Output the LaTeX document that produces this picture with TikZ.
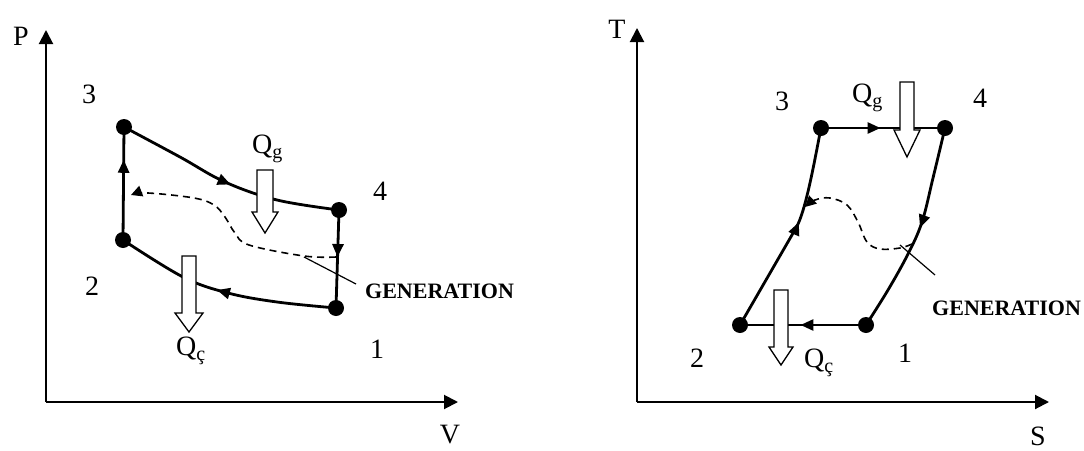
\documentclass[tikz,border=0pt]{standalone}
\usepackage{fontspec}
\setmainfont{Liberation Serif}
\usetikzlibrary{arrows.meta,decorations.markings}
\newcommand\heatarrow[6]{% cx, ytop, yheadtop, ytip, shaft half width, head half width
  \draw[heat] (#1-#5,#2) -- (#1+#5,#2) -- (#1+#5,#3) -- (#1+#6,#3) -- (#1,#4) -- (#1-#6,#3) -- (#1-#5,#3) -- cycle;}
\newcommand\subtxt[1]{\raisebox{-5pt}{\fontsize{20}{22}\selectfont #1}}
\begin{document}
\begin{tikzpicture}[x=1pt,y=-1pt,
  axis/.style={line width=2pt,-{Triangle[length=14pt,width=14pt]}},
  loopline/.style={line width=2.8pt,line join=round},
  dashedpath/.style={line width=1.6pt,dash pattern=on 7pt off 5pt,-{Triangle[length=11pt,width=11pt]}},
  leader/.style={line width=1.2pt},
  midarrow/.style={postaction={decorate,decoration={markings,mark=at position #1 with {\arrow{Triangle[length=13pt,width=11pt]}}}}},
  lbl/.style={font=\fontsize{28}{30}\selectfont,inner sep=0pt},
  gen/.style={font=\fontsize{22}{24}\selectfont\bfseries,inner sep=0pt,anchor=base west},
  dot/.style={circle,fill=black,inner sep=0pt,minimum size=16pt},
  heat/.style={draw=black,fill=white,line width=1.3pt,line join=miter}
]
\useasboundingbox (0,0) rectangle (1084,450);

% ---------------- Left: P-V diagram ----------------
\coordinate (LO) at (46,402);
\coordinate (LYT) at (46,30);
\coordinate (LXT) at (458,402);
\draw[axis] (LO) -- (LYT);
\draw[axis] (LO) -- (LXT);

\coordinate (L1) at (336,308);
\coordinate (L2) at (123,240);
\coordinate (L3) at (124,127);
\coordinate (L4) at (339,210);

\draw[loopline,midarrow=0.52] plot[smooth,tension=0.6] coordinates {(L3) (180,157) (225,182) (277,200) (L4)};
\draw[loopline,midarrow=0.48] (L4) -- (L1);
\draw[loopline,midarrow=0.53] plot[smooth,tension=0.6] coordinates {(L1) (277,302) (228,293) (183,277) (L2)};
\draw[loopline,midarrow=0.71] (L2) -- (L3);

\draw[dashedpath] plot[smooth,tension=0.6] coordinates {(336,257) (304,256) (249,245) (235,233) (225,217) (214,205) (194,198) (148,193) (131,195)};
\coordinate (LG1) at (304,257);
\coordinate (LG2) at (356,284);
\draw[leader] (LG1) -- (LG2);

\heatarrow{265}{170}{212}{233}{8}{13}
\heatarrow{189}{256}{313}{332}{7}{14}

\node[dot] (dL1) at (L1) {};
\node[dot] (dL2) at (L2) {};
\node[dot] (dL3) at (L3) {};
\node[dot] (dL4) at (L4) {};

\node[lbl,anchor=base] (tP) at (21,45) {P};
\node[lbl,anchor=base] (tV) at (450,443) {V};
\node[lbl,anchor=base] (tL3) at (89,103) {3};
\node[lbl,anchor=base] (tL4) at (380,200) {4};
\node[lbl,anchor=base] (tL2) at (92,295) {2};
\node[lbl,anchor=base] (tL1) at (377,358) {1};
\node[lbl,anchor=base west] (tLQg) at (252,153) {Q\subtxt{g}};
\node[lbl,anchor=base west] (tLQc) at (176,355) {Q\subtxt{ç}};
\node[gen] (tLgen) at (365,298) {GENERATION};

% ---------------- Right: T-S diagram ----------------
\coordinate (RO) at (637,402);
\coordinate (RYT) at (637,28);
\coordinate (RXT) at (1049,402);
\draw[axis] (RO) -- (RYT);
\draw[axis] (RO) -- (RXT);

\coordinate (R1) at (866,325);
\coordinate (R2) at (740,325);
\coordinate (R3) at (821,128);
\coordinate (R4) at (945,128);
\coordinate (R23) at (796,228);

\draw[loopline,midarrow=0.48] (R3) -- (R4);
\draw[loopline,midarrow=0.48] plot[smooth,tension=0.6] coordinates {(R4) (933,178) (922,222) (908,254) (888,290) (R1)};
\draw[loopline,midarrow=0.52] (R1) -- (R2);
\draw[loopline,midarrow=0.55] (R2) -- (R23) .. controls (806,211) and (815,158) .. (R3);

\draw[dashedpath] plot[smooth,tension=0.6] coordinates {(912,244) (900,248) (880,249) (867,242) (858,222) (847,205) (830,198) (815,200) (805,207)};
\coordinate (RG1) at (900,245);
\coordinate (RG2) at (935,275);
\draw[leader] (RG1) -- (RG2);

\heatarrow{907}{82}{130}{157}{7}{13}
\heatarrow{781}{290}{347}{365}{7}{12}

\node[dot] (dR1) at (R1) {};
\node[dot] (dR2) at (R2) {};
\node[dot] (dR3) at (R3) {};
\node[dot] (dR4) at (R4) {};

\node[lbl,anchor=base] (tT) at (617,38) {T};
\node[lbl,anchor=base] (tS) at (1038,445) {S};
\node[lbl,anchor=base] (tR3) at (782,110) {3};
\node[lbl,anchor=base] (tR4) at (980,107) {4};
\node[lbl,anchor=base] (tR2) at (697,367) {2};
\node[lbl,anchor=base] (tR1) at (905,362) {1};
\node[lbl,anchor=base west] (tRQg) at (852,102) {Q\subtxt{g}};
\node[lbl,anchor=base west] (tRQc) at (804,367) {Q\subtxt{ç}};
\node[gen] (tRgen) at (932,315) {GENERATION};
\end{tikzpicture}
\end{document}
